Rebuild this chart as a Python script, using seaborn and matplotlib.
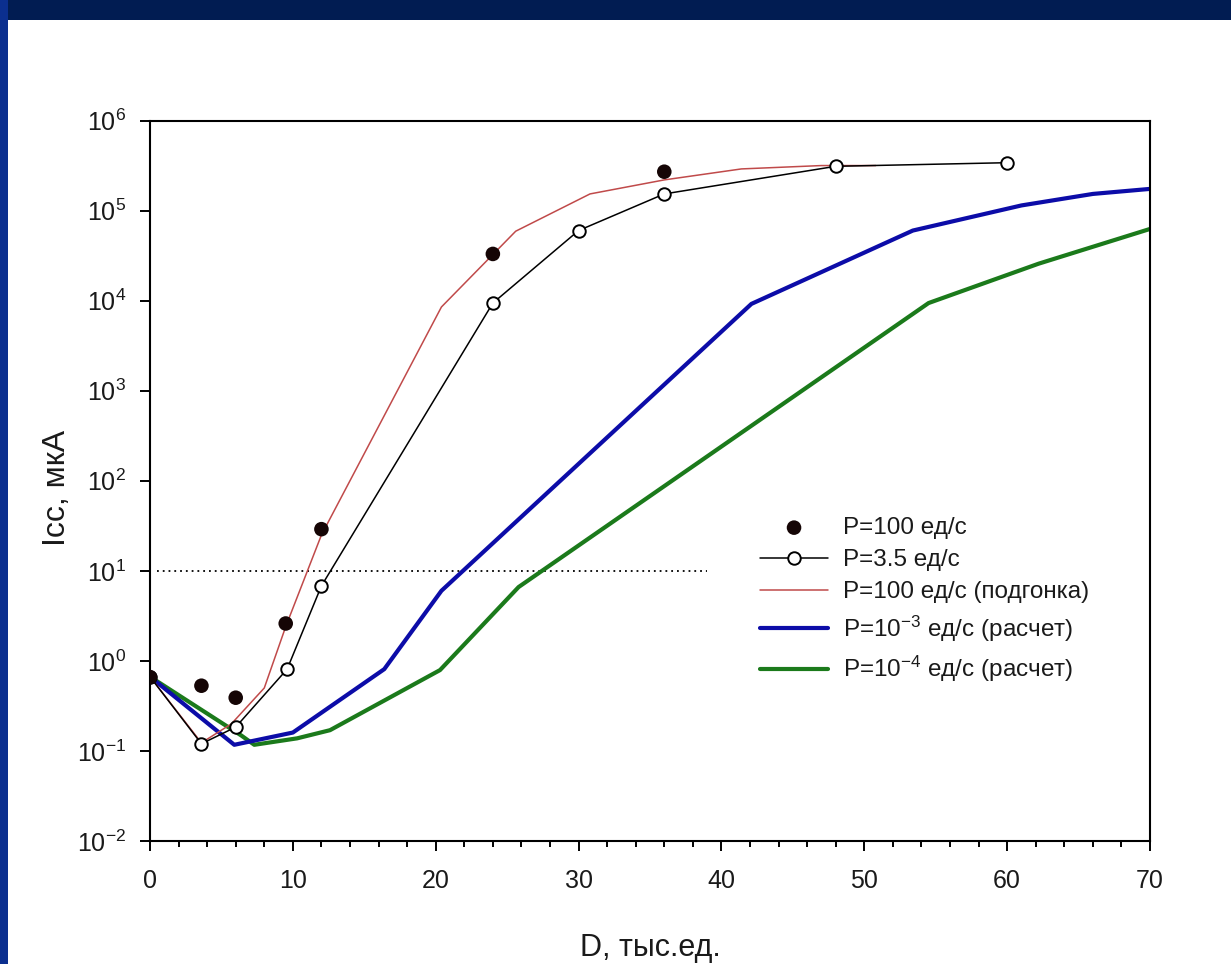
import numpy as np
import pandas as pd
import seaborn as sns
import matplotlib
matplotlib.use("Agg")
import matplotlib.pyplot as plt
from matplotlib.ticker import LogLocator, MultipleLocator, LogFormatterSciNotation, NullLocator
from matplotlib.patches import Rectangle

# ---------------- data ----------------
d_p100 = [0.0, 3.6, 6.0, 9.5, 12.0, 24.0, 36.0]
i_p100 = [0.66, 0.53, 0.39, 2.6, 29.0, 3.3e4, 2.7e5]

d_p35 = [0.0, 3.6, 6.0, 9.6, 12.0, 24.0, 30.0, 36.0, 48.0, 60.0]
i_p35 = [0.667, 0.12, 0.184, 0.81, 6.8, 9400.0, 6.0e4, 1.53e5, 3.1e5, 3.4e5]

d_fit = [0.0, 3.6, 5.7, 8.0, 9.5, 12.0, 20.4, 25.6, 30.8, 36.0, 41.4, 47.0, 50.8]
i_fit = [0.667, 0.123, 0.20, 0.50, 2.4, 25.0, 8500.0, 5.9e4, 1.53e5, 2.19e5, 2.9e5, 3.16e5, 3.16e5]

d_m3 = [0.0, 5.9, 10.0, 16.4, 20.4, 42.1, 53.4, 61.0, 66.0, 70.0]
i_m3 = [0.667, 0.117, 0.16, 0.81, 6.0, 9200.0, 6.0e4, 1.14e5, 1.53e5, 1.74e5]

d_m4 = [0.0, 6.4, 7.3, 10.3, 12.6, 20.3, 25.8, 54.5, 62.2, 70.0]
i_m4 = [0.667, 0.148, 0.117, 0.138, 0.17, 0.79, 6.6, 9400.0, 2.57e4, 6.25e4]

thresh_level = 10.0
thresh_range = [0.5, 39.0]

labels = ["P=100 ед/с", "P=3.5 ед/с", "P=100 ед/с (подгонка)",
          "P=10$^{-3}$ ед/с (расчет)", "P=10$^{-4}$ ед/с (расчет)"]
x_label = "D, тыс.ед."
y_label = "Icc, мкА"

# ---------------- style ----------------
sns.set_theme(style="white")
plt.rcParams["font.family"] = ["Liberation Sans", "DejaVu Sans"]
plt.rcParams["mathtext.fontset"] = "custom"
plt.rcParams["mathtext.rm"] = "Liberation Sans"
plt.rcParams["mathtext.it"] = "Liberation Sans:italic"
plt.rcParams["mathtext.bf"] = "Liberation Sans:bold"
plt.rcParams["axes.unicode_minus"] = True

text_col = "#1a1a1a"

fig = plt.figure(figsize=(12.31, 9.64), dpi=100)
fig.patch.set_facecolor("white")
# slide frame
fig.add_artist(Rectangle((0, 1 - 20 / 964), 1, 20 / 964, transform=fig.transFigure,
                         facecolor="#011c52", edgecolor="none", zorder=0))
fig.add_artist(Rectangle((0, 0), 8 / 1231, 1, transform=fig.transFigure,
                         facecolor="#0b2f8f", edgecolor="none", zorder=0))

ax = fig.add_axes([150 / 1231, 1 - 841 / 964, 1000 / 1231, 720.5 / 964])

df_fit = pd.DataFrame({"D": d_fit, "I": i_fit})
df_m3 = pd.DataFrame({"D": d_m3, "I": i_m3})
df_m4 = pd.DataFrame({"D": d_m4, "I": i_m4})
df_35 = pd.DataFrame({"D": d_p35, "I": i_p35})
df_100 = pd.DataFrame({"D": d_p100, "I": i_p100})

ax.hlines(thresh_level, thresh_range[0], thresh_range[1], colors="black",
          linestyles=(0, (1, 2.2)), linewidth=1.3, zorder=1)

sns.lineplot(data=df_m4, x="D", y="I", ax=ax, color="#1b7a1b", linewidth=3.0,
             sort=False, estimator=None, label=labels[4], zorder=2)
sns.lineplot(data=df_m3, x="D", y="I", ax=ax, color="#0c0ca8", linewidth=3.0,
             sort=False, estimator=None, label=labels[3], zorder=2)
sns.lineplot(data=df_fit, x="D", y="I", ax=ax, color="#c04a4a", linewidth=1.1,
             sort=False, estimator=None, label=labels[2], zorder=3)
sns.lineplot(data=df_35, x="D", y="I", ax=ax, color="black", linewidth=1.1,
             sort=False, estimator=None, label=labels[1], marker="o", markersize=9,
             markerfacecolor="white", markeredgecolor="black", markeredgewidth=1.4, zorder=4)
sns.scatterplot(data=df_100, x="D", y="I", ax=ax, color="#150505", s=110,
                edgecolor="none", label=labels[0], zorder=5)

ax.set_yscale("log")
ax.set_xlim(0, 70)
ax.set_ylim(1e-2, 1e6)

ax.xaxis.set_major_locator(MultipleLocator(10))
ax.xaxis.set_minor_locator(MultipleLocator(2))
ax.yaxis.set_major_locator(LogLocator(base=10, numticks=20))
ax.yaxis.set_minor_locator(NullLocator())
ax.yaxis.set_major_formatter(LogFormatterSciNotation())

for s in ax.spines.values():
    s.set_color("black")
    s.set_linewidth(1.5)

ax.tick_params(axis="both", which="major", direction="out", length=7, width=1.4,
               colors="black", labelcolor=text_col, labelsize=18)
ax.tick_params(axis="x", which="major", pad=13)
ax.tick_params(axis="y", which="major", pad=10)
ax.tick_params(axis="x", which="minor", direction="out", length=4, width=1.4, colors="black")
ax.tick_params(top=False, right=False, bottom=True, left=True, which="both")

ax.set_xlabel(x_label, fontsize=22, color=text_col)
ax.set_ylabel(y_label, fontsize=23, color=text_col)
ax.xaxis.set_label_coords(0.5, -0.128)
ax.yaxis.set_label_coords(-0.078, 0.49)
ax.grid(False)

# legend in requested order
handles, labs = ax.get_legend_handles_labels()
order = [labs.index(l) for l in labels]
leg = ax.legend([handles[i] for i in order], [labs[i] for i in order],
                loc="upper left", bbox_to_anchor=(760 / 1231, 1 - 517 / 964),
                bbox_transform=fig.transFigure, frameon=False, fontsize=17.5,
                handlelength=2.8, handletextpad=0.6, labelspacing=0.42,
                borderpad=0, borderaxespad=0)
for t in leg.get_texts():
    t.set_color(text_col)

fig.savefig("out.png", dpi=100, facecolor=fig.get_facecolor())
